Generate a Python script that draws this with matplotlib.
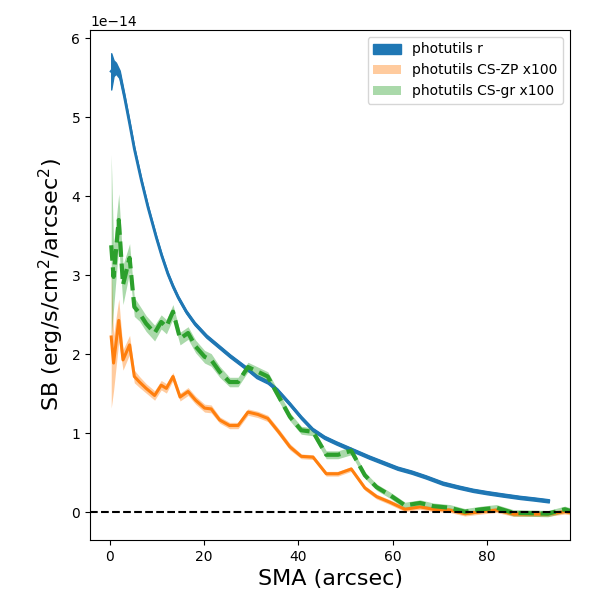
import numpy as np
import matplotlib
matplotlib.use('Agg')
import matplotlib.pyplot as plt

# photutils r profile (units of 1e-14)
sma_r = [0.3, 0.8, 1.3, 2.1, 3.1, 4.2, 5.2, 6.7, 8.1, 9.85, 11.0, 12.3, 13.4, 14.5,
         16.2, 18.0, 20.5, 23.3, 25.5, 27.5, 29.5, 31.1, 33.5, 35.5, 38.2, 40.6,
         43.0, 45.5, 48.0, 51.5, 55.0, 58.0, 61.0, 64.0, 67.0, 70.6, 74.0, 77.0,
         80.0, 83.4, 87.0, 90.0, 93.1]
sb_r = [5.58, 5.62, 5.62, 5.54, 5.26, 4.92, 4.60, 4.20, 3.86, 3.48, 3.25, 3.02, 2.86,
        2.72, 2.54, 2.39, 2.23, 2.09, 1.98, 1.89, 1.80, 1.72, 1.65, 1.55, 1.37, 1.20,
        1.05, 0.95, 0.88, 0.79, 0.70, 0.63, 0.56, 0.51, 0.45, 0.37, 0.32, 0.28,
        0.25, 0.22, 0.19, 0.17, 0.147]
err_r = [0.23, 0.1, 0.07, 0.05, 0.03, 0.025, 0.02, 0.02, 0.02, 0.02, 0.02, 0.02, 0.02,
         0.02, 0.02, 0.02, 0.02, 0.02, 0.02, 0.02, 0.02, 0.02, 0.02, 0.02, 0.02, 0.02,
         0.02, 0.02, 0.02, 0.02, 0.02, 0.02, 0.02, 0.02, 0.02, 0.02, 0.02, 0.02,
         0.02, 0.02, 0.02, 0.02, 0.02]

# CS profiles (x100, units of 1e-14)
sma_cs = [0.3, 0.8, 1.9, 2.8, 4.2, 5.2, 6.3, 7.7, 9.5, 10.9, 12.0, 13.4, 14.9, 16.6,
          18.2, 20.1, 21.5, 23.3, 25.4, 27.2, 29.3, 31.4, 33.5, 35.8, 38.2, 40.6,
          43.1, 45.9, 48.4, 51.2, 54.1, 56.6, 59.4, 62.6, 65.8, 68.6, 72.1, 75.3,
          78.8, 82.0, 85.6, 89.7, 92.9, 96.5, 97.6]
sb_zp = [2.22, 1.89, 2.43, 1.93, 2.12, 1.72, 1.65, 1.57, 1.48, 1.61, 1.57, 1.72, 1.46,
         1.53, 1.42, 1.32, 1.31, 1.17, 1.10, 1.10, 1.27, 1.24, 1.19, 1.02, 0.83, 0.71,
         0.70, 0.49, 0.49, 0.55, 0.31, 0.20, 0.13, 0.04, 0.07, 0.04, 0.03, -0.015,
         0.01, 0.03, -0.02, -0.02, -0.02, 0.01, 0.0]
err_zp = [0.9, 0.35, 0.27, 0.13, 0.12, 0.08, 0.07, 0.06, 0.06, 0.06, 0.06, 0.05, 0.05,
          0.05, 0.05, 0.05, 0.05, 0.04, 0.04, 0.04, 0.04, 0.04, 0.04, 0.04, 0.04, 0.03,
          0.03, 0.03, 0.03, 0.03, 0.03, 0.03, 0.03, 0.03, 0.03, 0.03, 0.03, 0.03,
          0.03, 0.03, 0.03, 0.03, 0.03, 0.03, 0.03]
sb_gr = [3.38, 2.98, 3.70, 2.88, 3.22, 2.60, 2.52, 2.39, 2.27, 2.41, 2.35, 2.54, 2.20,
         2.27, 2.10, 1.97, 1.93, 1.78, 1.65, 1.65, 1.84, 1.78, 1.72, 1.47, 1.21, 1.04,
         1.02, 0.73, 0.73, 0.78, 0.47, 0.32, 0.22, 0.09, 0.12, 0.08, 0.06, 0.01,
         0.04, 0.06, -0.005, -0.01, -0.015, 0.04, 0.02]
err_gr = [1.15, 0.4, 0.33, 0.25, 0.18, 0.12, 0.1, 0.1, 0.1, 0.09, 0.09, 0.09, 0.08,
          0.08, 0.08, 0.08, 0.08, 0.07, 0.06, 0.06, 0.06, 0.06, 0.06, 0.06, 0.05, 0.05,
          0.05, 0.05, 0.05, 0.05, 0.04, 0.04, 0.04, 0.04, 0.04, 0.04, 0.04, 0.04,
          0.04, 0.04, 0.04, 0.04, 0.04, 0.04, 0.04]

scale = 1e-14
sma_r = np.array(sma_r)
sma_cs = np.array(sma_cs)
r = np.array(sb_r) * scale
er = np.array(err_r) * scale
zp = np.array(sb_zp) * scale
ezp = np.array(err_zp) * scale
gr = np.array(sb_gr) * scale
egr = np.array(err_gr) * scale

fig, ax = plt.subplots(figsize=(6, 6), dpi=100)
fig.subplots_adjust(left=0.15, right=0.95, top=0.95, bottom=0.1)

ax.fill_between(sma_r, r - er, r + er, color='C0', label='photutils r')
ax.plot(sma_r, r, color='C0', lw=2)

ax.fill_between(sma_cs, zp - ezp, zp + ezp, color='C1', alpha=0.4, lw=0,
                label='photutils CS-ZP x100')
ax.plot(sma_cs, zp, color='C1', lw=2.2)

ax.fill_between(sma_cs, gr - egr, gr + egr, color='C2', alpha=0.4, lw=0,
                label='photutils CS-gr x100')
ax.plot(sma_cs, gr, color='C2', lw=3, ls='--')

ax.axhline(0, color='k', ls='--', lw=1.5, zorder=5)

ax.set_xlim(-4.2, 97.6)
ax.set_xlabel('SMA (arcsec)', fontsize=16)
ax.set_ylabel('SB (erg/s/cm$^2$/arcsec$^2$)', fontsize=16)
ax.legend(loc='upper right')

plt.savefig('out.png')
